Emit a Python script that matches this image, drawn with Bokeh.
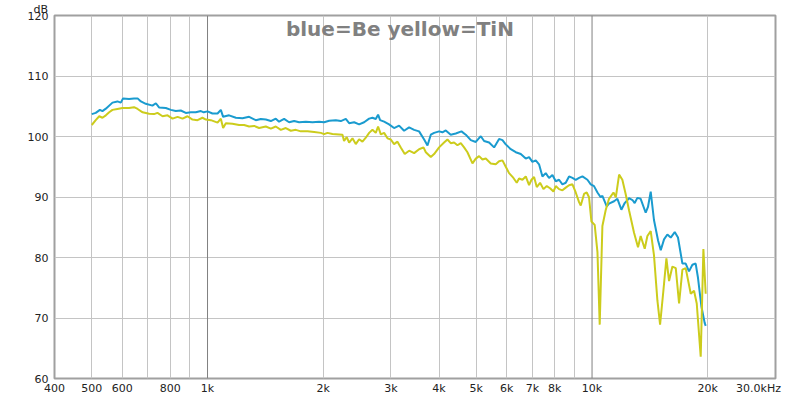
from bokeh.plotting import figure
from bokeh.models import FixedTicker, Label, Span, Range1d, Title
from bokeh.embed import file_html
from bokeh.resources import INLINE

# ---- data ----
freq_be = [500, 512, 525, 533, 544, 566, 583, 595, 603, 625, 644, 658, 671, 691, 719, 734, 748, 779,
           803, 827, 852, 878, 905, 932, 961, 978, 1000, 1030, 1062, 1083, 1098, 1138, 1185, 1233,
           1283, 1335, 1376, 1418, 1461, 1505, 1535, 1582, 1630, 1680, 1731, 1802, 1875, 1951,
           2010, 2072, 2156, 2222, 2289, 2335, 2406, 2479, 2554, 2632, 2685, 2739, 2777, 2811,
           2879, 2966, 3056, 3149, 3245, 3344, 3446, 3550, 3659, 3733, 3808, 3884, 4002, 4083,
           4165, 4291, 4422, 4575, 4695, 4838, 4985, 5137, 5240, 5399, 5563, 5732, 5848, 5965,
           6147, 6334, 6526, 6724, 6859, 6998, 7138, 7281, 7430, 7579, 7730, 7889, 8047, 8208,
           8375, 8543, 8714, 8892, 9070, 9252, 9441, 9727, 9922, 10120, 10330, 10530, 10640,
           10920, 11070, 11410, 11640, 11920, 12160, 12480, 12740, 12910, 13120, 13380, 13790,
           13980, 14210, 14490, 14850, 15090, 15390, 15700, 16020, 16410, 16730, 17180, 17520,
           17870, 18240, 18600, 18860, 19250, 19630, 19750]
db_be = [103.7, 103.9, 104.4, 104.2, 104.6, 105.6, 105.8, 105.6, 106.3, 106.2, 106.3, 106.3, 105.8,
         105.4, 105.1, 105.5, 104.8, 104.7, 104.4, 104.2, 104.3, 103.9, 104.0, 104.0, 104.2, 104.0,
         104.15, 103.8, 103.8, 104.4, 103.25, 103.5, 103.1, 103.0, 103.25, 102.7, 102.9, 102.8,
         102.55, 102.95, 102.45, 102.9, 102.35, 102.55, 102.35, 102.45, 102.35, 102.45, 102.35,
         102.6, 102.7, 102.55, 102.9, 102.2, 102.35, 102.0, 102.35, 102.95, 103.1, 102.9, 103.6,
         102.7, 102.45, 102.0, 101.4, 101.8, 100.95, 101.5, 101.1, 100.85, 99.5, 98.5, 100.3,
         100.6, 100.85, 100.7, 101.0, 100.3, 100.5, 100.85, 100.3, 99.4, 99.1, 100.05, 99.25,
         99.0, 98.2, 99.6, 99.4, 98.7, 97.9, 97.4, 97.1, 96.35, 96.6, 95.8, 96.05, 95.4, 93.4,
         93.95, 93.15, 93.65, 92.6, 92.85, 92.1, 92.35, 93.4, 93.15, 92.85, 93.15, 93.4, 92.85,
         92.1, 91.8, 90.75, 89.95, 90.2, 88.45, 88.9, 89.3, 89.7, 87.9, 89.0, 89.8, 89.5, 89.0,
         89.85, 89.7, 87.4, 88.35, 90.9, 86.2, 82.8, 81.2, 83.0, 83.8, 83.3, 84.2, 83.3, 79.0,
         79.0, 77.7, 78.8, 79.0, 76.65, 71.9, 69.2, 68.7]

freq_tin = [500, 512, 523, 533, 544, 555, 566, 583, 601, 625, 644, 658, 678, 705, 726, 741, 764, 787,
            811, 836, 861, 887, 914, 942, 970, 990, 1020, 1062, 1083, 1098, 1116, 1161, 1208, 1245,
            1283, 1322, 1362, 1418, 1461, 1505, 1551, 1598, 1647, 1697, 1748, 1820, 1894, 1971,
            2010, 2051, 2113, 2199, 2244, 2265, 2302, 2335, 2382, 2430, 2479, 2529, 2580, 2632,
            2685, 2739, 2777, 2823, 2879, 2938, 2997, 3056, 3119, 3181, 3258, 3344, 3446, 3550,
            3645, 3696, 3808, 3884, 4002, 4123, 4207, 4291, 4377, 4467, 4557, 4648, 4742, 4887,
            4985, 5085, 5188, 5292, 5453, 5618, 5732, 5848, 5965, 6085, 6246, 6371, 6460, 6592,
            6724, 6859, 6958, 7068, 7182, 7326, 7476, 7625, 7777, 7937, 8047, 8208, 8375, 8543,
            8714, 8892, 9070, 9252, 9346, 9533, 9687, 9822, 9963, 10160, 10330, 10470, 10640,
            10850, 11070, 11370, 11530, 11760, 11990, 12230, 12480, 12860, 13170, 13380, 13710,
            13930, 14210, 14490, 14790, 15030, 15330, 15610, 15860, 16180, 16510, 16840, 17180,
            17520, 18060, 18420, 18720, 19170, 19480, 19750]
db_tin = [101.9, 102.7, 103.35, 103.1, 103.5, 104.0, 104.4, 104.55, 104.7, 104.7, 104.85, 104.55,
          104.0, 103.75, 103.7, 103.9, 103.35, 103.5, 102.95, 103.25, 102.95, 103.35, 102.8, 102.7,
          103.1, 102.8, 102.7, 102.3, 102.95, 101.4, 102.2, 102.1, 101.9, 101.9, 101.65, 101.75,
          101.4, 101.65, 101.3, 101.65, 101.1, 101.4, 100.95, 101.1, 100.85, 100.85, 100.75, 100.6,
          100.4, 100.6, 100.4, 100.35, 100.3, 99.25, 99.9, 99.0, 99.7, 98.75, 99.55, 99.15, 99.8,
          100.6, 101.1, 100.6, 101.65, 100.35, 100.6, 99.7, 99.5, 98.75, 99.15, 98.2, 97.1, 97.65,
          97.25, 97.9, 98.2, 97.4, 96.6, 97.1, 98.2, 99.0, 99.5, 98.9, 99.0, 98.55, 98.9, 98.2,
          97.4, 95.55, 96.35, 96.75, 96.2, 96.35, 95.55, 95.4, 95.9, 96.05, 95.0, 93.95, 93.15,
          92.35, 93.05, 92.85, 93.4, 91.95, 92.85, 93.3, 91.65, 92.35, 91.3, 91.8, 91.45, 90.9,
          91.8, 91.3, 91.1, 91.55, 91.95, 92.1, 90.75, 89.15, 88.6, 90.5, 90.75, 89.95, 85.95,
          85.4, 80.9, 68.9, 85.2, 87.8, 89.7, 90.75, 89.95, 93.7, 92.85, 90.5, 87.8, 84.1, 81.7,
          83.55, 81.45, 83.55, 84.35, 80.4, 72.9, 68.9, 74.5, 79.85, 76.1, 78.5, 78.25, 72.4, 78.0,
          78.25, 74.0, 74.5, 72.4, 63.6, 81.4, 74.0]

x_tick_values = [400, 500, 600, 800, 1000, 2000, 3000, 4000, 5000, 6000, 7000, 8000, 10000, 20000, 30000]
x_tick_labels = ["400", "500", "600", "800", "1k", "2k", "3k", "4k", "5k", "6k", "7k", "8k", "10k", "20k",
                 "30.0kHz"]
x_grid_values = [500, 600, 700, 800, 900, 2000, 3000, 4000, 5000, 6000, 7000, 8000, 9000, 20000]
x_dark_grid = [1000, 10000]
y_tick_values = [60, 70, 80, 90, 100, 110, 120]
y_grid_values = [70, 80, 90, 100, 110]
title_text = "blue=Be yellow=TiN"
y_unit = "dB"

BLUE = "#1a9bcf"
YELLOW = "#cccc1c"
FONT = "DejaVu Sans"
TXT = "#222222"
NBSP = "\u00a0"

p = figure(width=784, height=397, x_axis_type="log",
           x_range=Range1d(400, 30000), y_range=Range1d(60, 120),
           output_backend="svg", toolbar_location=None,
           min_border_left=54, min_border_right=9, min_border_top=14, min_border_bottom=16,
           background_fill_color="white", border_fill_color="white")

p.outline_line_color = "#a0a0a0"
p.outline_line_width = 2

# axes
p.xaxis.ticker = FixedTicker(ticks=x_tick_values)
overrides = {v: l for v, l in zip(x_tick_values, x_tick_labels)}
# the last label sits at the right frame edge: pad it so it stays inside the canvas
overrides[x_tick_values[-1]] = x_tick_labels[-1] + NBSP
p.xaxis.major_label_overrides = overrides
p.yaxis.ticker = FixedTicker(ticks=y_tick_values)
for ax in (p.xaxis, p.yaxis):
    ax.axis_line_color = None
    ax.major_tick_line_color = None
    ax.minor_tick_line_color = None
    ax.major_tick_out = 0
    ax.major_tick_in = 0
    ax.minor_tick_out = 0
    ax.minor_tick_in = 0
    ax.major_label_text_font = FONT
    ax.major_label_text_font_size = "11px"
    ax.major_label_text_color = TXT
p.xaxis.major_label_standoff = 3
p.yaxis.major_label_standoff = 6

# grids
p.xgrid.ticker = FixedTicker(ticks=x_grid_values)
p.ygrid.ticker = FixedTicker(ticks=y_grid_values)
p.xgrid.grid_line_color = "#c4c4c4"
p.ygrid.grid_line_color = "#c4c4c4"
for f in x_dark_grid:
    p.add_layout(Span(location=f, dimension="height", line_color="#808080",
                      line_width=1, level="underlay"))

# curves
p.line(freq_be, db_be, line_color=BLUE, line_width=2)
p.line(freq_tin, db_tin, line_color=YELLOW, line_width=2)

# texts
p.add_layout(Label(x=3165, y=117.7, text=title_text, text_align="center",
                   text_baseline="middle", text_font=FONT, text_font_size="20px",
                   text_font_style="bold", text_color="#808080"))
p.add_layout(Title(text=y_unit, align="left", offset=-21, standoff=0,
                   text_font=FONT, text_font_size="11px", text_font_style="normal",
                   text_color=TXT), "above")

open("out.html", "w").write(file_html(p, INLINE))
